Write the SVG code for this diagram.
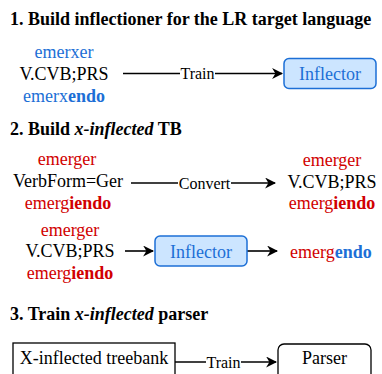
<svg xmlns="http://www.w3.org/2000/svg" width="382" height="374" viewBox="0 0 382 374">
<defs>
<marker id="arr" viewBox="0 0 10 10" refX="9" refY="5" markerWidth="11" markerHeight="11" orient="auto" markerUnits="userSpaceOnUse">
<path d="M0,0 L10,5 L0,10 L3,5 Z" fill="#000"/>
</marker>
</defs>
<rect width="382" height="374" fill="#fff"/>
<g font-family="Times New Roman, Liberation Serif, serif" font-size="18" fill="#000">
<text font-weight="bold" x="10" y="25">1. Build inflectioner for the LR target language</text>
<text font-weight="bold" x="10" y="135">2. Build <tspan font-style="italic">x-inflected</tspan> TB</text>
<text font-weight="bold" x="10" y="320">3. Train <tspan font-style="italic">x-inflected</tspan> parser</text>

<g id="connectors" stroke="#000" stroke-width="1.6" fill="none">
<line x1="123" y1="73.5" x2="282" y2="73.5" marker-end="url(#arr)"/>
<line x1="131" y1="183" x2="275" y2="183" marker-end="url(#arr)"/>
<line x1="125" y1="251" x2="153" y2="251" marker-end="url(#arr)"/>
<line x1="247" y1="251" x2="277" y2="251" marker-end="url(#arr)"/>
<line x1="175" y1="362" x2="276" y2="362" marker-end="url(#arr)"/>
</g>
<g id="labels" font-size="16" text-anchor="middle">
<rect x="180" y="64" width="35" height="18" fill="#fff"/>
<text x="197.5" y="79">Train</text>
<rect x="178" y="174" width="53" height="18" fill="#fff"/>
<text x="204.5" y="188.5">Convert</text>
<rect x="206" y="353" width="35" height="18" fill="#fff"/>
<text x="223.5" y="367.5">Train</text>
</g>

<g id="src1" text-anchor="middle">
<text fill="#1c6fd6" x="64" y="58">emerxer</text>
<text x="64" y="80">V.CVB;PRS</text>
<text fill="#1c6fd6" x="64" y="102">emerx<tspan font-weight="bold">endo</tspan></text>
</g>
<g id="inflector1">
<rect fill="#cce5ff" stroke="#1c6fd6" stroke-width="1.5" x="284" y="58.5" width="92" height="30" rx="5"/>
<text fill="#1c6fd6" text-anchor="middle" x="330" y="80">Inflector</text>
</g>

<g id="ud" text-anchor="middle">
<text fill="#d10000" x="67" y="165">emerger</text>
<text x="68" y="187">VerbForm=Ger</text>
<text fill="#d10000" x="68" y="209">emerg<tspan font-weight="bold">iendo</tspan></text>
</g>
<g id="um" text-anchor="middle">
<text fill="#d10000" x="332" y="166">emerger</text>
<text x="332" y="188">V.CVB;PRS</text>
<text fill="#d10000" x="332" y="209">emerg<tspan font-weight="bold">iendo</tspan></text>
</g>
<g id="um2" text-anchor="middle">
<text fill="#d10000" x="70" y="236">emerger</text>
<text x="70" y="257">V.CVB;PRS</text>
<text fill="#d10000" x="70" y="279">emerg<tspan font-weight="bold">iendo</tspan></text>
</g>
<g id="inflector2">
<rect fill="#cce5ff" stroke="#1c6fd6" stroke-width="1.5" x="155" y="236" width="92" height="30" rx="5"/>
<text fill="#1c6fd6" text-anchor="middle" x="201" y="257.5">Inflector</text>
</g>
<g id="out">
<text fill="#d10000" x="290" y="257.5">emerg<tspan fill="#1c6fd6" font-weight="bold">endo</tspan></text>
</g>

<g id="treebank">
<rect fill="#fff" stroke="#000" stroke-width="1.3" x="13" y="343" width="162" height="40"/>
<text text-anchor="middle" x="94" y="364">X-inflected treebank</text>
</g>
<g id="parser">
<rect fill="#fff" stroke="#000" stroke-width="1.3" x="278" y="344" width="93" height="40" rx="6"/>
<text text-anchor="middle" x="324.5" y="364">Parser</text>
</g>
</g>
</svg>
